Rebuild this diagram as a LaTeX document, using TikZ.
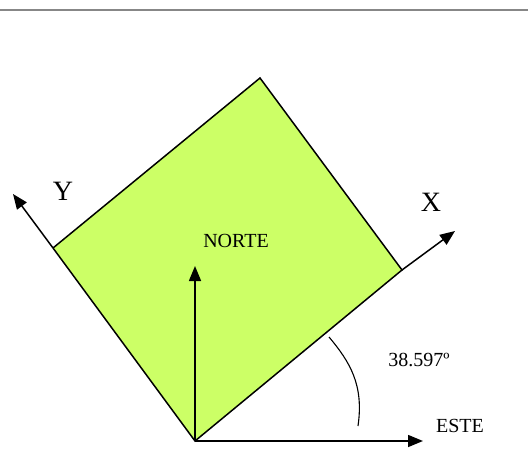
\documentclass[tikz,border=0pt]{standalone}
\usepackage{fontspec}
\setmainfont{Liberation Serif}
\usetikzlibrary{arrows.meta}
\definecolor{plate}{RGB}{204,255,102}
\definecolor{rule}{RGB}{135,135,135}
\tikzset{
  axis/.style={line width=1.5pt,-{Triangle[length=15pt,width=12pt]}},
  edge/.style={line width=1.5pt},
  lbl/.style={inner sep=0pt,font=\fontsize{20}{22}\selectfont},
  big/.style={inner sep=0pt,font=\fontsize{28}{30}\selectfont}
}
\begin{document}
\begin{tikzpicture}[x=1pt,y=-1pt]
\useasboundingbox (0,0) rectangle (528,476);
\draw[rule,line width=2pt] (0,10.5) -- (528,10.5);
\coordinate (O) at (195,441);
\coordinate (R) at (402,270);
\coordinate (T) at (260,78);
\coordinate (L) at (53,248);
\coordinate (Xt) at (455,231);
\coordinate (Yt) at (13,194);
\coordinate (Et) at (423,441);
\coordinate (Nt) at (195,266);
\coordinate (a1) at (329,337);
\coordinate (a2) at (358,426);
\fill[plate] (O) -- (R) -- (T) -- (L) -- cycle;
\draw[edge,line join=miter] (L) -- (O) -- (R) -- (T) -- (L);
\draw[axis] (R) -- (Xt);
\draw[axis] (L) -- (Yt);
\draw[axis] (O) -- (Et);
\draw[axis] (O) -- (Nt);
\draw[line width=1.1pt] (a1) .. controls (350,362) and (364,385) .. (a2);
\node[lbl] (norte) at (236,241) {NORTE};
\node[lbl] (este) at (460,426) {ESTE};
\node[lbl] (ang) at (419,360) {38.597º};
\node[big] (xl) at (431,202) {X};
\node[big] (yl) at (63,191) {Y};
\end{tikzpicture}
\end{document}
